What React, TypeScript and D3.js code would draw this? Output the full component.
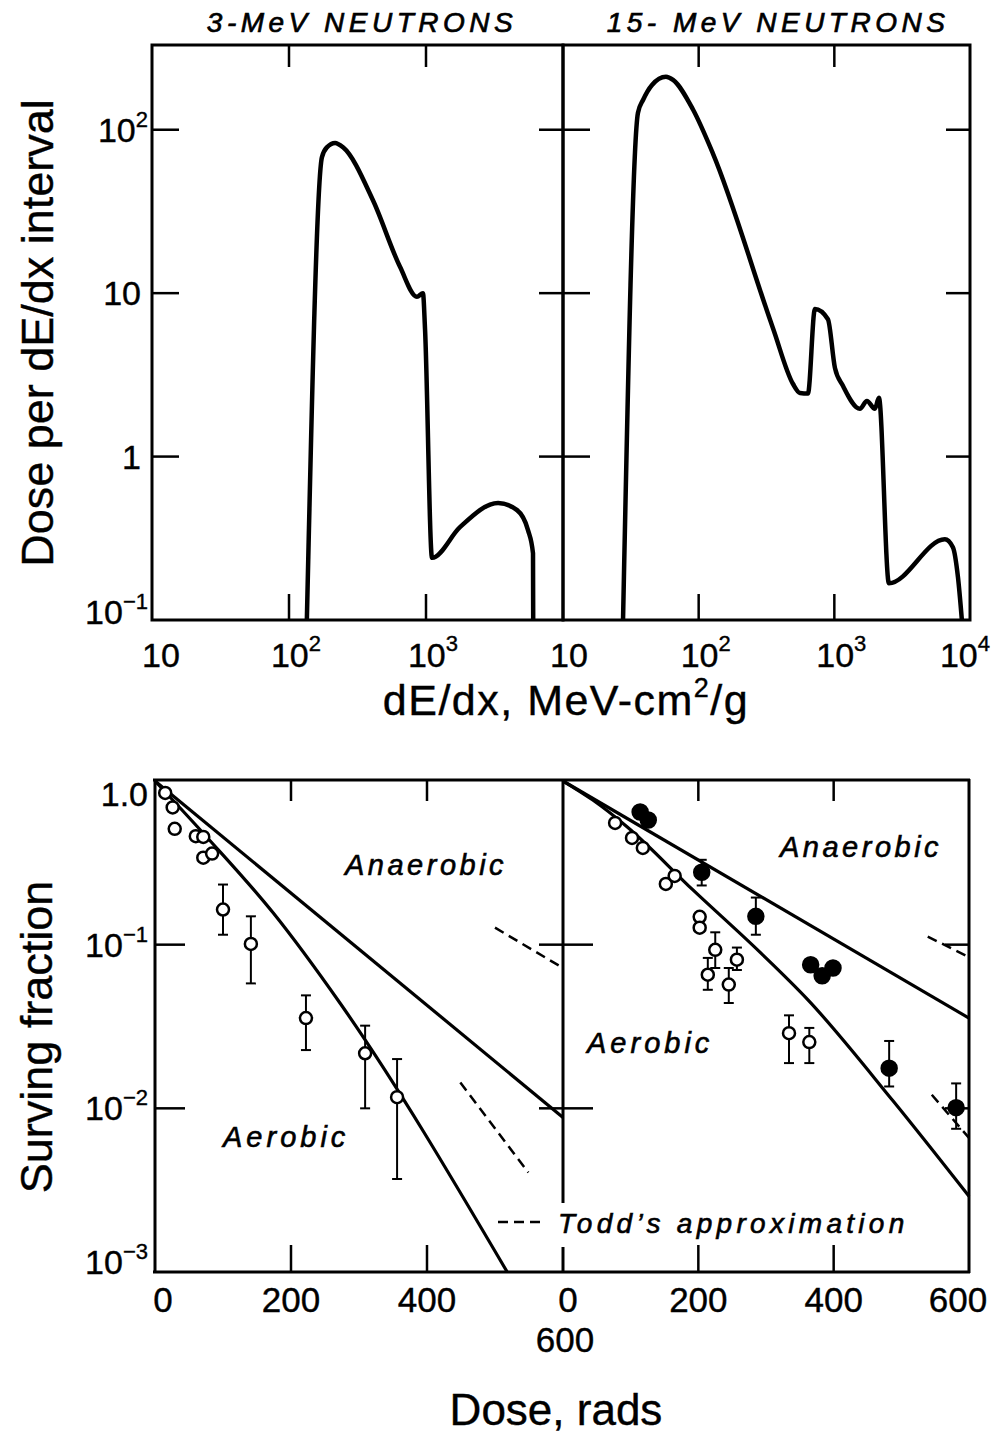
import React from 'react'
import * as d3 from 'd3'

type Pt = [number, number]
type ErrPt = [number, number, number, number] // dose, value, upper, lower

// ---- top: dose per dE/dx interval vs dE/dx (MeV-cm2/g)
const mev3Spectrum: Pt[] = [
  [135, 0.1], [174, 68], [189, 78], [217, 83], [248, 78], [410, 37], [646, 14.5],
  [859, 9.5], [950, 10], [984, 6], [1107, 0.24], [1770, 0.37], [3360, 0.52],
  [4620, 0.47], [5560, 0.354], [6040, 0.256], [6060, 0.1],
]
const mev15Spectrum: Pt[] = [
  [27.7, 0.1], [35.7, 127], [38.9, 152], [45.3, 188], [57.4, 211], [64.7, 202],
  [90.8, 133], [127, 72], [353, 6.1], [495, 2.79], [558, 2.45], [639, 2.43],
  [719, 7.99], [897, 6.93], [1010, 3.49], [1157, 2.71], [1544, 1.96], [1738, 2.19],
  [1991, 1.96], [2131, 2.29], [2525, 0.168], [6530, 0.312], [7480, 0.279],
  [8150, 0.183], [8710, 0.1],
]
const letTicks = [100, 1000]
const doseAxisTicks = [1, 10, 100]
const letLabelsLeft = [{ v: 10, sup: '' }, { v: 100, sup: '2' }, { v: 1000, sup: '3' }]
const letLabelsRight = [{ v: 10, sup: '' }, { v: 100, sup: '2' }, { v: 1000, sup: '3' }, { v: 10000, sup: '4' }]
const doseAxisLabels = [{ v: 100, base: '10', sup: '2' }, { v: 10, base: '10', sup: '' }, { v: 1, base: '1', sup: '' }, { v: 0.1, base: '10', sup: '\u22121' }]

// ---- bottom: surviving fraction vs dose (rads)
const anaerobic3: Pt[] = [[0, 1], [600, 0.0088]]
const aerobic3: Pt[] = [[0, 1], [76, 0.455], [174, 0.156], [272, 0.044], [518, 0.001]]
const anaerobic15: Pt[] = [[0, 1], [600, 0.0356]]
const aerobic15: Pt[] = [[0, 1], [44, 0.765], [95, 0.524], [192, 0.216], [291, 0.09], [362, 0.046], [487, 0.0112], [600, 0.0029]]

const open3: Pt[] = [[15, 0.845], [26, 0.69], [29, 0.51], [60, 0.46], [71, 0.455], [71, 0.34], [84, 0.36]]
const open3Err: ErrPt[] = [[100, 0.164, 0.233, 0.115], [141, 0.101, 0.149, 0.058], [222, 0.0356, 0.049, 0.0227], [309, 0.0217, 0.032, 0.01], [356, 0.0117, 0.02, 0.0037]]

const open15: Pt[] = [[77, 0.554], [102, 0.449], [118, 0.39], [152, 0.235], [165, 0.263], [202, 0.148], [202, 0.127]]
const open15Err: ErrPt[] = [[225, 0.093, 0.119, 0.072], [214, 0.0655, 0.083, 0.053], [257, 0.081, 0.096, 0.07], [245, 0.057, 0.072, 0.044], [334, 0.0288, 0.037, 0.0189], [364, 0.0254, 0.031, 0.0189]]
const filled15: Pt[] = [[114, 0.647], [126, 0.578], [366, 0.0754], [383, 0.0645], [399, 0.072]]
const filled15Err: ErrPt[] = [[205, 0.277, 0.33, 0.23], [285, 0.149, 0.194, 0.115], [482, 0.0176, 0.0258, 0.0136], [581, 0.0101, 0.0142, 0.0075]]

const todd3: Pt[][] = [[[500, 0.127], [600, 0.072]], [[449, 0.0144], [549, 0.00405]]]
const todd15: Pt[][] = [[[539, 0.112], [600, 0.084]], [[545, 0.0121], [600, 0.0066]]]

const survTicks = [0.1, 0.01]
const doseTicks = [200, 400]
const survLabels = [{ v: 1, base: '1.0', sup: '' }, { v: 0.1, base: '10', sup: '\u22121' }, { v: 0.01, base: '10', sup: '\u22122' }, { v: 0.001, base: '10', sup: '\u22123' }]

const FONT = '"Liberation Sans", Arial, Helvetica, sans-serif'

export default function App() {
  const yTop = d3.scaleLog().domain([0.1, 330]).range([620, 45])
  const xTopL = d3.scaleLog().domain([10, 1e4]).range([152, 563])
  const xTopR = d3.scaleLog().domain([10, 1e4]).range([563, 970])

  const yBot = d3.scaleLog().domain([0.001, 1]).range([1272, 781])
  const xBotL = d3.scaleLinear().domain([0, 600]).range([155, 563])
  const xBotR = d3.scaleLinear().domain([0, 600]).range([563, 969])

  const spec = (x: any) => d3.line<Pt>().x(d => x(d[0])).y(d => yTop(d[1])).curve(d3.curveMonotoneX)
  const surv = (x: any) => d3.line<Pt>().x(d => x(d[0])).y(d => yBot(d[1])).curve(d3.curveMonotoneX)
  const straight = (x: any) => d3.line<Pt>().x(d => x(d[0])).y(d => yBot(d[1]))

  const topFrames = [xTopL, xTopR]
  const botFrames = [xBotL, xBotR]

  const errBars = (x: any, data: ErrPt[], key: string) => data.map((d, i) => (
    <g key={key + i} stroke="#000" strokeWidth={2}>
      <line x1={x(d[0])} x2={x(d[0])} y1={yBot(d[2])} y2={yBot(d[3])} />
      <line x1={x(d[0]) - 5} x2={x(d[0]) + 5} y1={yBot(d[2])} y2={yBot(d[2])} />
      <line x1={x(d[0]) - 5} x2={x(d[0]) + 5} y1={yBot(d[3])} y2={yBot(d[3])} />
    </g>
  ))
  const circles = (x: any, data: Pt[], filled: boolean, key: string) => data.map((d, i) => (
    <circle key={key + i} cx={x(d[0])} cy={yBot(d[1])} r={filled ? 7.5 : 6}
      fill={filled ? '#000' : '#fff'} stroke="#000" strokeWidth={2.5} />
  ))

  const gapTop = 1203
  const gapBot = 1247

  return (
    <svg width={997} height={1434} style={{ position: 'absolute', left: 0, top: 0, background: '#fff' }} fontFamily={FONT}>
      <rect width={997} height={1434} fill="#fff" />

      {/* ---------- top panels ---------- */}
      <g fontSize={28} fontStyle="italic" letterSpacing={4.5} textAnchor="middle" stroke="#000" strokeWidth={0.7}>
        <text x={362} y={32}>3-MeV NEUTRONS</text>
        <text x={778} y={32}>15- MeV NEUTRONS</text>
      </g>

      {topFrames.map((x, k) => {
        const [x0, x1] = x.range()
        return (
          <g key={'tf' + k} stroke="#000" strokeWidth={2.5}>
            <rect x={x0} y={45} width={x1 - x0} height={575} fill="none" strokeWidth={3} />
            {letTicks.map(t => (
              <g key={t}>
                <line x1={x(t)} x2={x(t)} y1={45} y2={67} />
                <line x1={x(t)} x2={x(t)} y1={620} y2={594} />
              </g>
            ))}
            {doseAxisTicks.map(t => (
              <g key={t}>
                <line x1={x0} x2={x0 + 27} y1={yTop(t)} y2={yTop(t)} />
                <line x1={x1 - 24} x2={x1} y1={yTop(t)} y2={yTop(t)} />
              </g>
            ))}
          </g>
        )
      })}

      <path d={spec(xTopL)(mev3Spectrum) || ''} fill="none" stroke="#000" strokeWidth={4.5} strokeLinejoin="round" />
      <path d={spec(xTopR)(mev15Spectrum) || ''} fill="none" stroke="#000" strokeWidth={4.5} strokeLinejoin="round" />

      <g stroke="#000" strokeWidth={0.4}>
        {doseAxisLabels.map(l => (
          <text key={'dl' + l.v} x={l.sup ? 148 : 141} y={yTop(l.v) + (l.v === 0.1 ? 4 : 12)} fontSize={34} textAnchor="end">
            {l.base}{l.sup && <tspan dy={-15} fontSize={22}>{l.sup}</tspan>}
          </text>
        ))}
        {letLabelsLeft.map(l => (
          <text key={'ll' + l.v} x={xTopL(l.v) + (l.sup ? 7 : 9)} y={667} fontSize={34} textAnchor="middle">
            10{l.sup && <tspan dy={-16} fontSize={22}>{l.sup}</tspan>}
          </text>
        ))}
        {letLabelsRight.map(l => (
          <text key={'lr' + l.v} x={xTopR(l.v) + (l.v === 10 ? 6 : l.v === 10000 ? -5 : 7)} y={667} fontSize={34} textAnchor="middle">
            10{l.sup && <tspan dy={-16} fontSize={22}>{l.sup}</tspan>}
          </text>
        ))}

        <text x={566} y={715} fontSize={43} textAnchor="middle" letterSpacing={1.5}>
          dE/dx, MeV-cm<tspan dy={-18} fontSize={27}>2</tspan><tspan dy={18}>/g</tspan>
        </text>
        <text transform="translate(53,333) rotate(-90)" fontSize={45} textAnchor="middle">Dose per dE/dx interval</text>
      </g>

      {/* ---------- bottom panels ---------- */}
      <g stroke="#000" strokeWidth={3} fill="none">
        <line x1={153} x2={970} y1={780} y2={780} />
        <line x1={153} x2={970} y1={1272} y2={1272} />
        <line x1={155} x2={155} y1={779} y2={1273} />
        <line x1={969} x2={969} y1={779} y2={1273} />
        <line x1={563} x2={563} y1={779} y2={gapTop} />
        <line x1={563} x2={563} y1={gapBot} y2={1273} />
      </g>
      {botFrames.map((x, k) => {
        const [x0, x1] = x.range()
        return (
          <g key={'bf' + k} stroke="#000" strokeWidth={2.5}>
            {doseTicks.map(t => (
              <g key={t}>
                <line x1={x(t)} x2={x(t)} y1={780} y2={801} />
                <line x1={x(t)} x2={x(t)} y1={1272} y2={1245} />
              </g>
            ))}
            {survTicks.map(t => (
              <g key={t}>
                <line x1={x0} x2={x0 + 30} y1={yBot(t)} y2={yBot(t)} />
                <line x1={x1 - 24} x2={x1} y1={yBot(t)} y2={yBot(t)} />
              </g>
            ))}
          </g>
        )
      })}

      <path d={straight(xBotL)(anaerobic3) || ''} fill="none" stroke="#000" strokeWidth={3.2} />
      <path d={surv(xBotL)(aerobic3) || ''} fill="none" stroke="#000" strokeWidth={3.2} />
      <path d={straight(xBotR)(anaerobic15) || ''} fill="none" stroke="#000" strokeWidth={3.2} />
      <path d={surv(xBotR)(aerobic15) || ''} fill="none" stroke="#000" strokeWidth={3.2} />

      {todd3.map((seg, i) => (
        <path key={'t3' + i} d={straight(xBotL)(seg) || ''} fill="none" stroke="#000" strokeWidth={2.5} strokeDasharray="10 6" />
      ))}
      {todd15.map((seg, i) => (
        <path key={'t15' + i} d={straight(xBotR)(seg) || ''} fill="none" stroke="#000" strokeWidth={2.5} strokeDasharray="10 6" />
      ))}

      {errBars(xBotL, open3Err, 'e3')}
      {errBars(xBotR, open15Err, 'e15')}
      {errBars(xBotR, filled15Err, 'ef15')}
      {circles(xBotL, open3, false, 'o3')}
      {circles(xBotL, open3Err.map(d => [d[0], d[1]] as Pt), false, 'oe3')}
      {circles(xBotR, open15, false, 'o15')}
      {circles(xBotR, open15Err.map(d => [d[0], d[1]] as Pt), false, 'oe15')}
      {circles(xBotR, filled15, true, 'f15')}
      {circles(xBotR, filled15Err.map(d => [d[0], d[1]] as Pt), true, 'fe15')}

      <g fontSize={29} fontStyle="italic" letterSpacing={3.5} stroke="#000" strokeWidth={0.6}>
        <text x={345} y={875}>Anaerobic</text>
        <text x={780} y={857}>Anaerobic</text>
        <text x={223} y={1147} letterSpacing={4}>Aerobic</text>
        <text x={587} y={1053} letterSpacing={4}>Aerobic</text>
        <text x={558} y={1233} fontSize={28} letterSpacing={4.3}>Todd’s approximation</text>
      </g>
      <line x1={498} x2={545} y1={1222} y2={1222} stroke="#000" strokeWidth={2.5} strokeDasharray="10 6" />

      <g stroke="#000" strokeWidth={0.4}>
        {survLabels.map(l => (
          <text key={'sl' + l.v} x={148} y={yBot(l.v) + (l.v === 1 ? 25 : l.v === 0.001 ? 2 : 12)} fontSize={34} textAnchor="end">
            {l.base}{l.sup && <tspan dy={-15} fontSize={22}>{l.sup}</tspan>}
          </text>
        ))}

        {[0, 200, 400].map(v => (
          <text key={'dxl' + v} x={xBotL(v) + (v === 0 ? 8 : 0)} y={1312} fontSize={35} textAnchor="middle">{v}</text>
        ))}
        <text x={565} y={1352} fontSize={35} textAnchor="middle">600</text>
        {[0, 200, 400, 600].map(v => (
          <text key={'dxr' + v} x={xBotR(v) + (v === 0 ? 5 : v === 600 ? -11 : 0)} y={1312} fontSize={35} textAnchor="middle">{v}</text>
        ))}

        <text x={556} y={1425} fontSize={44} textAnchor="middle">Dose, rads</text>
        <text transform="translate(52,1037) rotate(-90)" fontSize={45} textAnchor="middle">Surving fraction</text>
      </g>
    </svg>
  )
}
